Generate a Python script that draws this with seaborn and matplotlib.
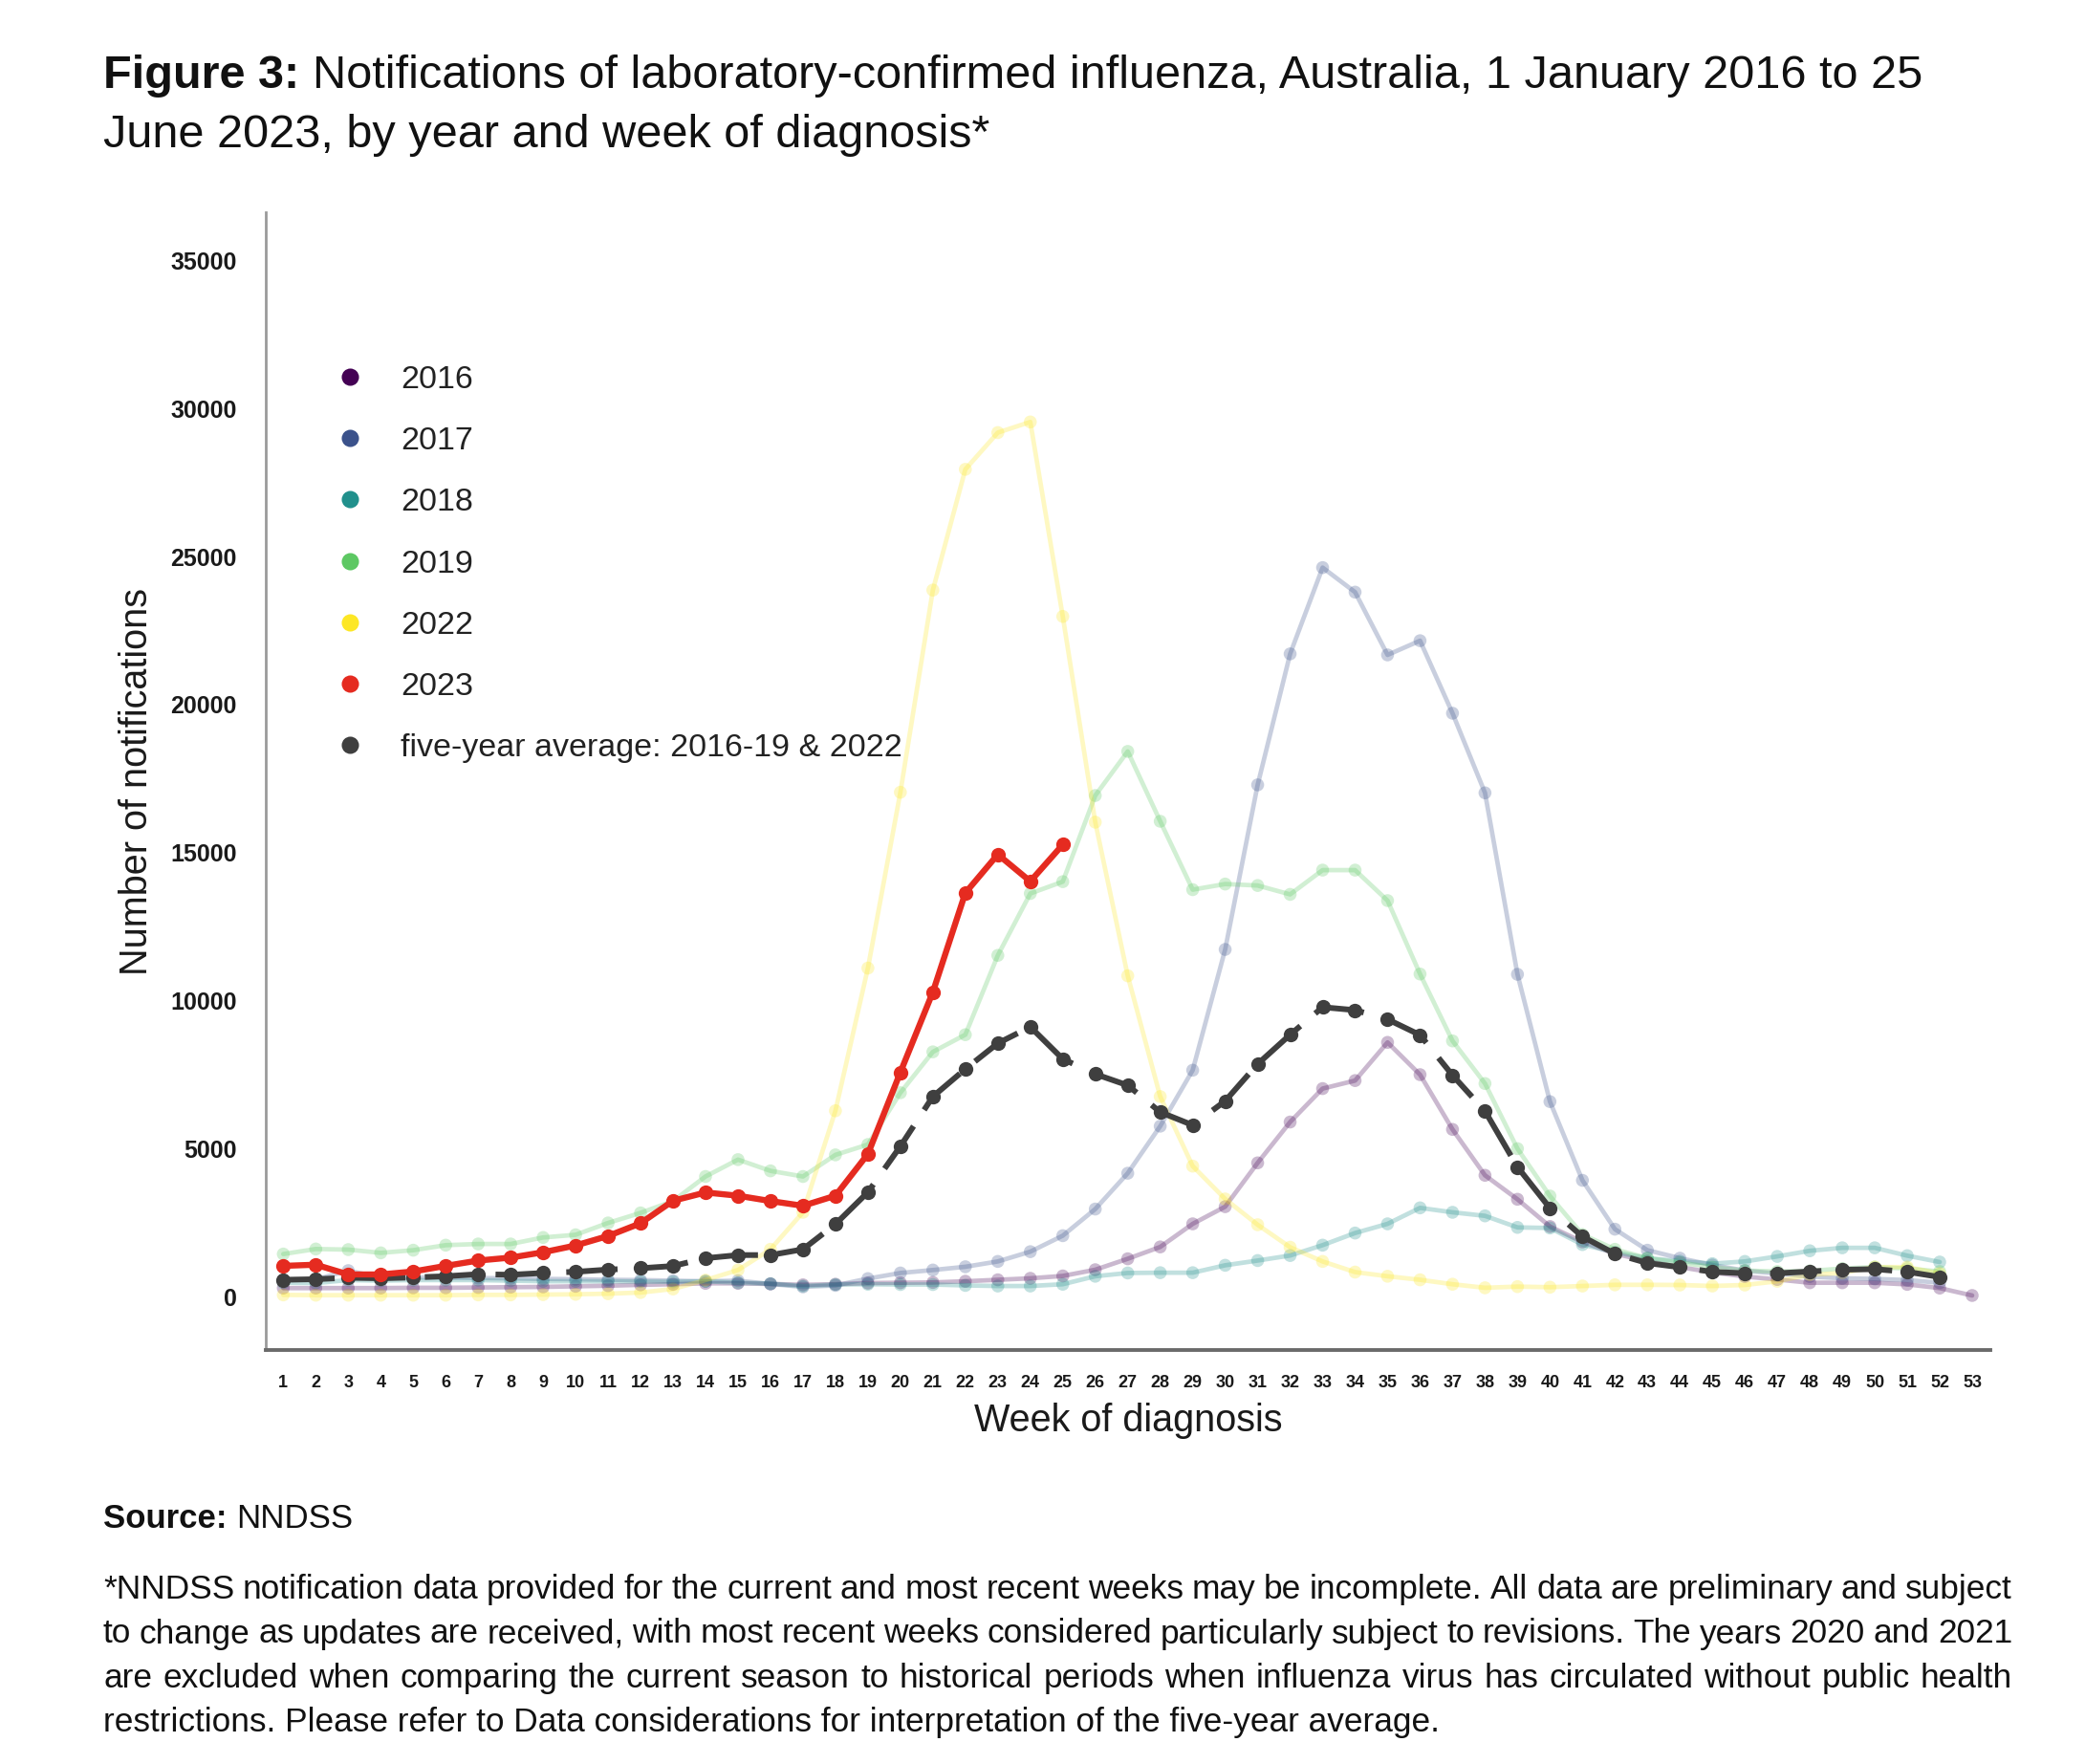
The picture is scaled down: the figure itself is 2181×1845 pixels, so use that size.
import matplotlib
matplotlib.use("Agg")
import matplotlib.pyplot as plt
from matplotlib.lines import Line2D
import pandas as pd
import seaborn as sns

# ---------------- data ----------------
weeks_52 = list(range(1, 53))
weeks_53 = list(range(1, 54))
weeks_2023 = list(range(1, 26))
week_ticks = list(range(1, 54))
y_ticks = [0, 5000, 10000, 15000, 20000, 25000, 30000, 35000]

n2016 = [290, 290, 290, 290, 300, 300, 310, 320, 330, 350, 370, 400,
         420, 450, 450, 430, 400, 420, 460, 470, 480, 520, 570, 620, 700,
         910, 1280, 1680, 2460, 3040, 4520, 5900, 7030, 7300, 8590, 7500, 5650, 4100, 3290, 2370, 1850,
         1450, 1200, 1000, 820, 680, 580, 470, 470, 470, 415, 290, 40]
n2017 = [560, 580, 880, 640, 650, 640, 630, 620, 600, 590, 570, 560, 540,
         520, 540, 430, 330, 380, 610, 800, 900, 1010, 1190, 1520, 2060,
         2960, 4170, 5760, 7650, 11730, 17290, 21715, 24630, 23800, 21680, 22160, 19710, 17020, 10890, 6590, 3930,
         2280, 1570, 1300, 1070, 880, 780, 680, 620, 600, 560, 470]
n2018 = [470, 460, 560, 540, 560, 560, 560, 540, 520, 520, 520, 510, 500,
         520, 470, 440, 360, 410, 420, 410, 410, 380, 360, 360, 420,
         690, 800, 810, 810, 1060, 1220, 1390, 1740, 2150, 2460, 3000, 2850, 2730, 2340, 2320, 1760,
         1500, 1300, 1200, 1115, 1190, 1360, 1550, 1650, 1650, 1385, 1170]
n2019 = [1440, 1610, 1590, 1480, 1570, 1740, 1780, 1780, 2000, 2090, 2490, 2830, 3230,
         4060, 4630, 4250, 4060, 4790, 5140, 6890, 8270, 8850, 11530, 13620, 14020,
         16930, 18420, 16060, 13750, 13940, 13890, 13590, 14410, 14410, 13380, 10900, 8640, 7200, 5000, 3400, 2100,
         1600, 1300, 1150, 1000, 880, 850, 870, 950, 1000, 950, 850]
n2022 = [60, 50, 50, 50, 50, 50, 60, 60, 70, 80, 100, 140, 260,
         560, 900, 1600, 2850, 6280, 11100, 17040, 23870, 27950, 29190, 29550, 22980,
         16030, 10840, 6760, 4410, 3300, 2430, 1670, 1190, 830, 690, 570, 420, 300, 340, 320, 360,
         400, 400, 394, 361, 394, 520, 740, 800, 1000, 1000, 780]
n2023 = [1040, 1080, 750, 750, 850, 1040, 1220, 1320, 1500, 1730, 2050, 2480, 3240,
         3520, 3410, 3230, 3070, 3410, 4820, 7580, 10290, 13640, 14940, 14030, 15270]
n_avg = [570, 590, 640, 620, 650, 690, 760, 740, 800, 840, 915, 960, 1035,
         1300, 1405, 1405, 1600, 2450, 3530, 5080, 6760, 7690, 8560, 9115, 8030,
         7520, 7140, 6235, 5795, 6610, 7860, 8850, 9780, 9680, 9370, 8840, 7480, 6270, 4380, 2990, 2030,
         1450, 1135, 995, 840, 790, 790, 850, 910, 930, 840, 665]

years = ["2016", "2017", "2018", "2019", "2022"]
avg_label = "five-year average: 2016-19 & 2022"

# ---------------- styling ----------------
colors = {"2016": "#440154", "2017": "#3B528B", "2018": "#21908C",
          "2019": "#5DC863", "2022": "#FDE725"}
red = "#E52B20"
dark = "#3F3F3F"

sns.set_style("white")
plt.rcParams["font.family"] = ["Liberation Sans", "DejaVu Sans"]

W, H, DPI = 2181, 1845, 100
fig = plt.figure(figsize=(W / DPI, H / DPI), dpi=DPI)
AX_L, AX_R, AX_T, AX_B = 278, 2082, 222, 1412
ax = fig.add_axes([AX_L / W, 1 - AX_B / H, (AX_R - AX_L) / W, (AX_B - AX_T) / H])

past = pd.concat([
    pd.DataFrame({"week": weeks_53, "n": n2016, "year": "2016"}),
    pd.DataFrame({"week": weeks_52, "n": n2017, "year": "2017"}),
    pd.DataFrame({"week": weeks_52, "n": n2018, "year": "2018"}),
    pd.DataFrame({"week": weeks_52, "n": n2019, "year": "2019"}),
    pd.DataFrame({"week": weeks_52, "n": n2022, "year": "2022"}),
], ignore_index=True)

sns.lineplot(data=past, x="week", y="n", hue="year", palette=colors,
             hue_order=years, linewidth=3.4, alpha=0.28, legend=False,
             estimator=None, ax=ax)
sns.scatterplot(data=past, x="week", y="n", hue="year", palette=colors,
                hue_order=years, s=95, alpha=0.28, linewidth=0, legend=False, ax=ax)

avg_df = pd.DataFrame({"week": weeks_52, "n": n_avg})
sns.lineplot(data=avg_df, x="week", y="n", color=dark, linewidth=4.3,
             marker="o", markersize=11, markeredgewidth=0, ax=ax)
ax.lines[-1].set_dashes([9, 3.4])

df23 = pd.DataFrame({"week": weeks_2023, "n": n2023})
sns.lineplot(data=df23, x="week", y="n", color=red, linewidth=4.6,
             marker="o", markersize=11, markeredgewidth=0, ax=ax)

# ---------------- axes ----------------
ax.set_xlim(0.46, 53.56)
ax.set_ylim(-1802, 36634)
ax.set_xticks(week_ticks)
ax.set_xticklabels([str(w) for w in week_ticks])
ax.set_yticks(y_ticks)
ax.set_yticklabels([str(v) for v in y_ticks])
for s in ("top", "right"):
    ax.spines[s].set_visible(False)
ax.spines["left"].set_color("#9a9a9a")
ax.spines["left"].set_linewidth(2.0)
ax.spines["bottom"].set_color("#6a6a6a")
ax.spines["bottom"].set_linewidth(2.8)
ax.tick_params(axis="y", length=14, width=1.6, color="#9a9a9a", pad=8,
               labelsize=18, labelcolor="#1a1a1a")
ax.tick_params(axis="x", length=15, width=1.2, color="#333333", pad=4,
               labelsize=13, labelcolor="#1a1a1a")
for lbl in ax.get_yticklabels() + ax.get_xticklabels():
    lbl.set_fontweight("bold")
ax.grid(False)

ax.set_xlabel("Week of diagnosis", fontsize=28.5, color="#1a1a1a")
ax.xaxis.label.set_va("center")
ax.xaxis.set_label_coords(0.5, -(1486 - AX_B) / (AX_B - AX_T))
ax.set_ylabel("Number of notifications", fontsize=28.5, color="#1a1a1a")
ax.yaxis.label.set_va("center")
ax.yaxis.set_label_coords((143 - AX_L) / (AX_R - AX_L), 0.5)

# ---------------- legend ----------------
handles = [Line2D([], [], marker="o", ls="none", color=colors[y], markersize=13,
                  markeredgewidth=0) for y in years]
handles += [Line2D([], [], marker="o", ls="none", color=red, markersize=13, markeredgewidth=0),
            Line2D([], [], marker="o", ls="none", color=dark, markersize=13, markeredgewidth=0)]
labels = years + ["2023", avg_label]
fs_leg = 24.5
leg = ax.legend(handles, labels, loc="upper left", frameon=False,
                bbox_to_anchor=(349 / W, 1 - 382 / H), bbox_transform=fig.transFigure,
                fontsize=fs_leg, handlelength=1.0, handletextpad=1.05,
                labelspacing=0.975, borderpad=0, borderaxespad=0)
for t in leg.get_texts():
    t.set_color("#222222")

# ---------------- text helpers ----------------
renderer = fig.canvas.get_renderer()


def width_of(s, **kw):
    t = fig.text(0, 0, s, **kw)
    w = t.get_window_extent(renderer).width
    t.remove()
    return w


def mixed(x_px, base_px, parts, fs):
    x = x_px
    space = width_of("a a", fontsize=fs) - width_of("aa", fontsize=fs)
    for s, wt in parts:
        t = fig.text(x / W, 1 - base_px / H, s, fontsize=fs, fontweight=wt,
                     va="baseline", ha="left", color="#111111")
        x += t.get_window_extent(renderer).width + space


def justified(words_line, base_px, x0, x1, fs):
    ws = words_line.split(" ")
    texts = [fig.text(0, 1 - base_px / H, w, fontsize=fs, va="baseline",
                      ha="left", color="#111111") for w in ws]
    widths = [t.get_window_extent(renderer).width for t in texts]
    gap = (x1 - x0 - sum(widths)) / (len(ws) - 1)
    x = x0
    for t, w in zip(texts, widths):
        t.set_x(x / W)
        x += w + gap


LEFT = 108
mixed(LEFT, 92, [("Figure 3:", "bold"),
                 ("Notifications of laboratory-confirmed influenza, Australia, 1 January 2016 to 25", "normal")], 35)
mixed(LEFT, 154, [("June 2023, by year and week of diagnosis*", "normal")], 35)

mixed(LEFT, 1598, [("Source:", "bold"), ("NNDSS", "normal")], 25)

foot = [
    "*NNDSS notification data provided for the current and most recent weeks may be incomplete. All data are preliminary and subject",
    "to change as updates are received, with most recent weeks considered particularly subject to revisions. The years 2020 and 2021",
    "are excluded when comparing the current season to historical periods when influenza virus has circulated without public health",
]
for i, line in enumerate(foot):
    justified(line, 1672 + i * 46.5, LEFT, 2105, 25.4)
fig.text(LEFT / W, 1 - (1672 + 3 * 46.5) / H,
         "restrictions. Please refer to Data considerations for interpretation of the five-year average.",
         fontsize=25.4, va="baseline", ha="left", color="#111111")

fig.savefig("out.png", dpi=DPI, facecolor="white")
